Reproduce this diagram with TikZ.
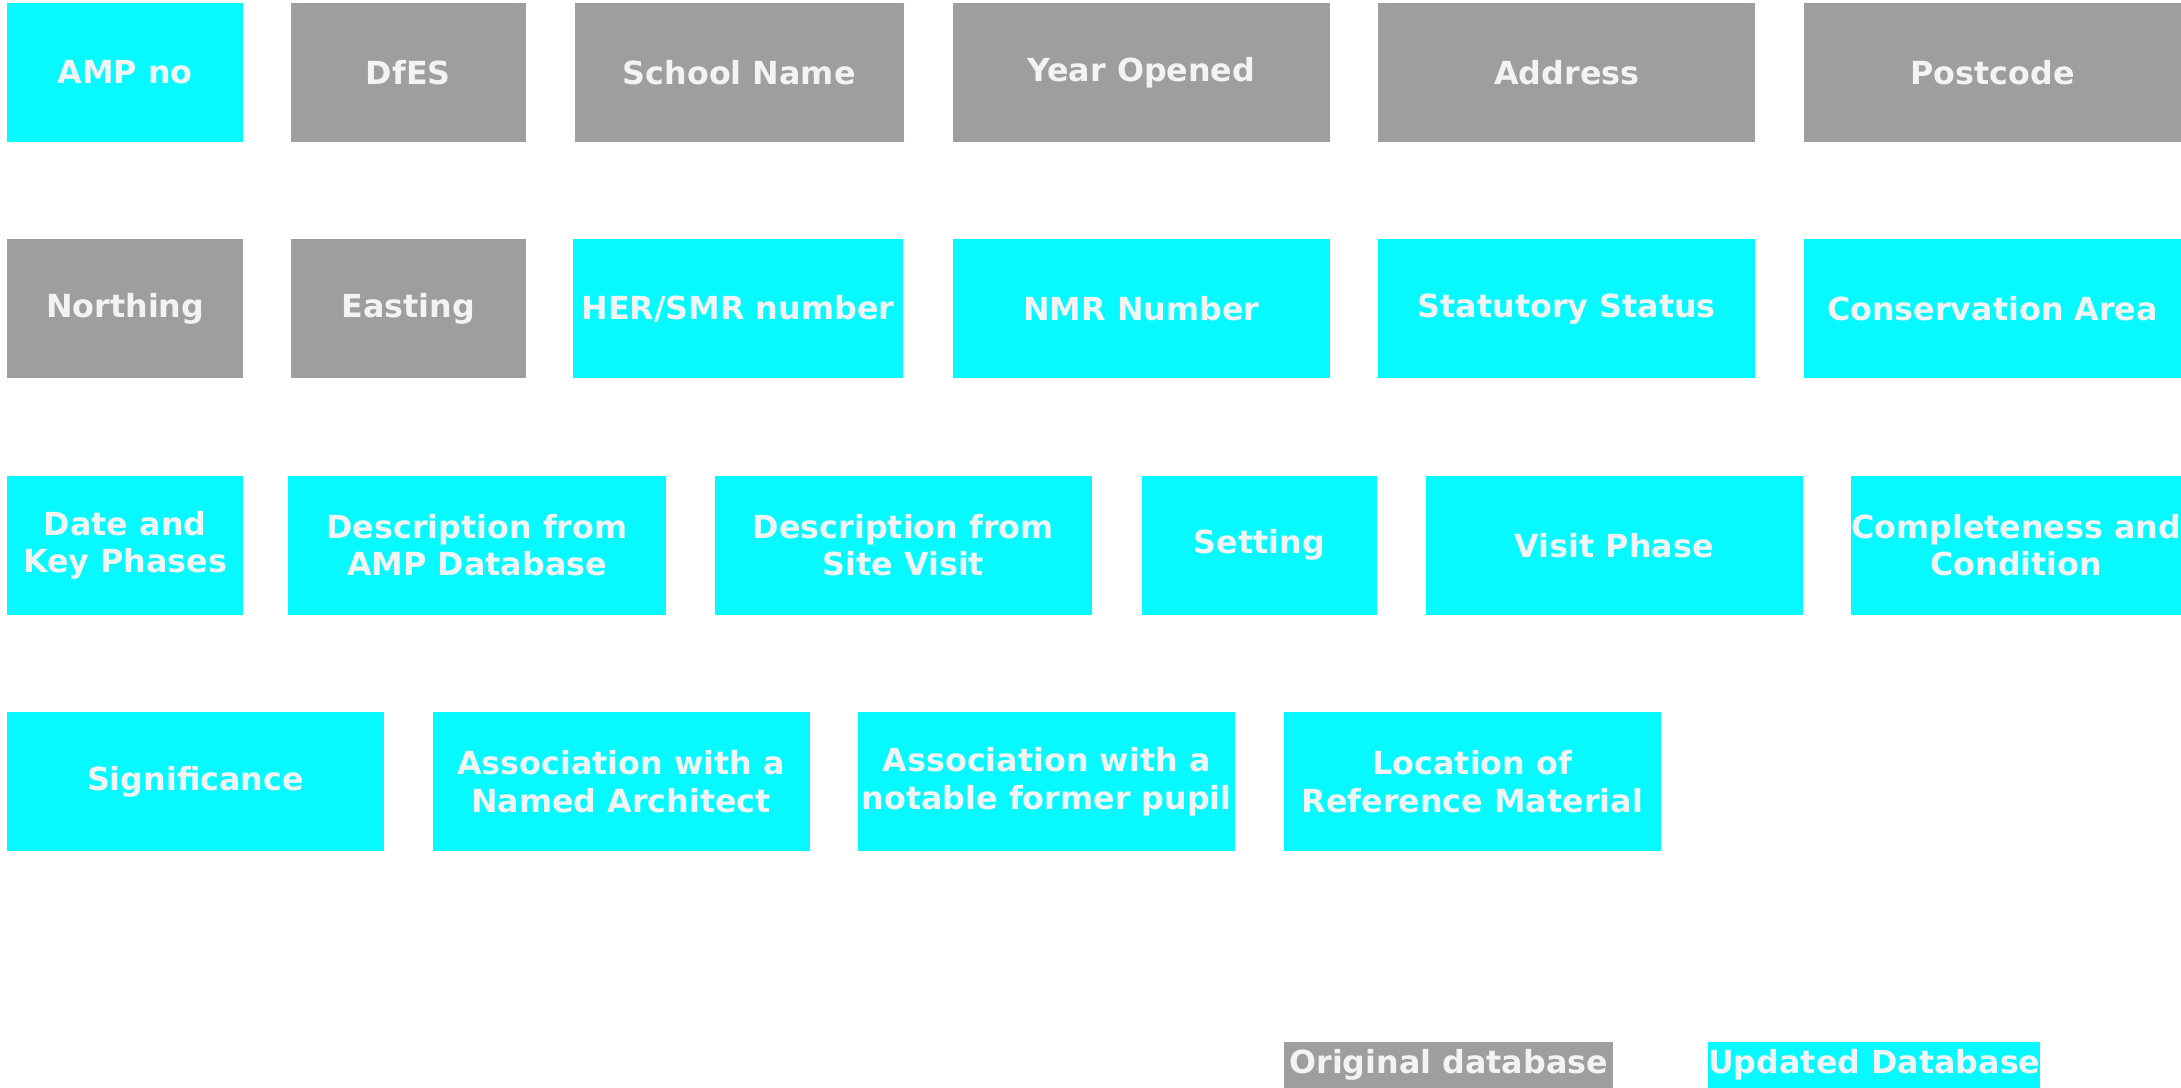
\documentclass[tikz,border=0pt]{standalone}
\usepackage{fontspec}
\setmainfont{DejaVu Sans}
\usepackage{tikz}
\usepackage{xcolor}
\definecolor{oldgray}{HTML}{9C9F9B}
\definecolor{newcyan}{HTML}{05F9FF}
\definecolor{boxtext}{HTML}{F2F4F4}

\tikzset{
  field/.style={minimum height=2cm, inner sep=0pt, align=center, text=boxtext,
    font=\fontsize{13}{15.4}\selectfont\bfseries},
  oldfield/.style={field, fill=oldgray},
  newfield/.style={field, fill=newcyan},
  keybox/.style={minimum height=0.66cm, minimum width=4.74cm, inner sep=0pt, text=boxtext,
    font=\fontsize{13}{15.4}\selectfont\bfseries}
}

\begin{document}
\begin{tikzpicture}[x=0.02cm, y=-0.02cm]

\useasboundingbox (0,0) rectangle (1568,782);

% first row
\node[newfield, minimum width=3.4cm] (amp) at (90,52) {AMP no};
\node[oldfield, minimum width=3.38cm] (dfes) at (293.5,52) {DfES};
\node[oldfield, minimum width=4.74cm] (school) at (531.5,52) {School Name};
\node[oldfield, minimum width=5.42cm] (opened) at (820.5,52) {Year Opened};
\node[oldfield, minimum width=5.42cm] (address) at (1126.5,52) {Address};
\node[oldfield, minimum width=5.42cm] (postcode) at (1432.5,52) {Postcode};

% second row
\node[oldfield, minimum width=3.4cm] (northing) at (90,222) {Northing};
\node[oldfield, minimum width=3.38cm] (easting) at (293.5,222) {Easting};
\node[newfield, minimum width=4.74cm] (her) at (530.5,222) {HER/SMR number};
\node[newfield, minimum width=5.42cm] (nmr) at (820.5,222) {NMR Number};
\node[newfield, minimum width=5.42cm] (statutory) at (1126.5,222) {Statutory Status};
\node[newfield, minimum width=5.42cm] (conservation) at (1432.5,222) {Conservation Area};

% third row
\node[newfield, minimum width=3.4cm] (phases) at (90,392) {Date and\\Key Phases};
\node[newfield, minimum width=5.44cm] (descamp) at (343,392) {Description from\\AMP Database};
\node[newfield, minimum width=5.42cm] (descsite) at (649.5,392) {Description from\\Site Visit};
\node[newfield, minimum width=3.38cm] (setting) at (905.5,392) {Setting};
\node[newfield, minimum width=5.42cm] (visit) at (1160.5,392) {Visit Phase};
\node[newfield, minimum width=4.74cm] (condition) at (1449.5,392) {Completeness and\\Condition};

% fourth row
\node[newfield, minimum width=5.42cm] (significance) at (140.5,562) {Significance};
\node[newfield, minimum width=5.42cm] (architect) at (446.5,562) {Association with a\\Named Architect};
\node[newfield, minimum width=5.42cm] (pupil) at (752.5,562) {Association with a\\notable former pupil};
\node[newfield, minimum width=5.42cm] (reference) at (1058.5,562) {Location of\\Reference Material};

% key
\node[keybox, fill=oldgray] (keyold) at (1041.5,765.5) {Original database};
\node[keybox, fill=newcyan] (keynew) at (1347.5,765.5) {Updated Database};

\end{tikzpicture}
\end{document}
